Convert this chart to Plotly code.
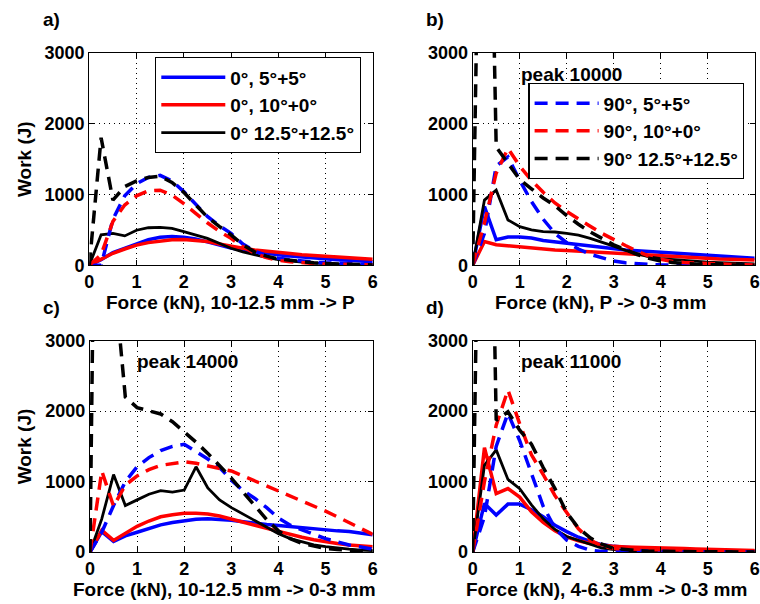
import plotly.graph_objects as go

# ---------------- data ----------------
force = [0, 0.25, 0.5, 0.75, 1.0, 1.25, 1.5, 1.75, 2.0, 2.25, 2.5, 2.75, 3.0,
         3.25, 3.5, 3.75, 4.0, 4.25, 4.5, 4.75, 5.0, 5.25, 5.5, 5.75, 6.0]

legend_solid = ["0°, 5°+5°", "0°, 10°+0°", "0° 12.5°+12.5°"]
legend_dashed = ["90°, 5°+5°", "90°, 10°+0°", "90° 12.5°+12.5°"]

# panel a) 10-12.5 mm -> P
a_blue_0 = [0, 80, 180, 240, 300, 360, 395, 405, 395, 370, 330, 285, 245, 215, 190, 170, 150, 130, 115, 100, 90, 80, 70, 60, 50]
a_red_0 = [0, 90, 170, 230, 285, 320, 345, 360, 365, 355, 335, 300, 265, 240, 215, 195, 180, 165, 150, 140, 130, 120, 105, 95, 85]
a_black_0 = [0, 430, 450, 415, 495, 530, 535, 520, 475, 430, 380, 310, 240, 190, 145, 110, 80, 60, 45, 32, 22, 15, 10, 6, 4]
a_blue_90 = [0, 0, 650, 980, 1150, 1240, 1270, 1190, 1040, 860, 690, 560, 450, 300, 200, 140, 100, 80, 60, 45, 35, 27, 20, 14, 10]
a_red_90 = [0, 150, 620, 850, 980, 1050, 1060, 990, 870, 730, 600, 480, 380, 260, 170, 110, 70, 50, 35, 25, 18, 12, 8, 6, 5]
a_black_90 = [0, 1800, 920, 1110, 1190, 1240, 1255, 1170, 1030, 850, 680, 550, 430, 290, 190, 130, 90, 70, 50, 35, 25, 18, 12, 8, 5]

# panel b) P -> 0-3 mm
b_blue_0 = [0, 830, 360, 400, 400, 385, 350, 330, 310, 290, 265, 245, 230, 215, 205, 195, 188, 178, 168, 155, 142, 130, 120, 110, 100]
b_red_0 = [0, 335, 290, 275, 265, 245, 225, 215, 210, 200, 190, 180, 170, 160, 150, 140, 130, 120, 110, 100, 95, 90, 85, 80, 75]
b_black_0 = [0, 920, 1060, 640, 545, 500, 475, 470, 450, 425, 380, 330, 270, 210, 160, 120, 95, 80, 65, 55, 45, 38, 30, 25, 20]
b_blue_90 = [0, 450, 1400, 1530, 1200, 900, 650, 450, 320, 230, 155, 105, 60, 35, 20, 12, 6, 3, 2, 1, 0, 0, 0, 0, 0]
b_red_90 = [0, 600, 1300, 1650, 1400, 1200, 1030, 880, 760, 650, 550, 450, 360, 280, 200, 130, 85, 55, 40, 30, 22, 17, 12, 8, 5]
b_black_90 = [0, 10000, 1670, 1430, 1210, 1080, 950, 840, 700, 580, 470, 380, 290, 220, 150, 100, 60, 40, 25, 15, 10, 6, 4, 2, 1]

# panel c) 10-12.5 mm -> 0-3 mm
c_blue_0 = [0, 290, 150, 230, 280, 330, 385, 420, 445, 465, 472, 465, 450, 430, 405, 390, 378, 360, 342, 325, 312, 300, 290, 270, 245]
c_red_0 = [0, 310, 165, 270, 365, 440, 500, 530, 550, 550, 540, 510, 470, 425, 380, 335, 290, 250, 210, 175, 145, 120, 100, 85, 75]
c_black_0 = [0, 470, 1100, 660, 740, 820, 870, 850, 880, 1210, 910, 740, 630, 540, 450, 350, 260, 190, 140, 100, 75, 55, 40, 28, 20]
c_blue_90 = [0, 280, 660, 1000, 1210, 1340, 1440, 1500, 1530, 1430, 1320, 1200, 1020, 870, 760, 630, 480, 380, 310, 250, 190, 140, 100, 70, 40]
c_red_90 = [0, 1150, 650, 950, 1080, 1170, 1230, 1260, 1280, 1260, 1220, 1180, 1150, 1080, 1010, 940, 870, 800, 720, 650, 580, 500, 420, 330, 250]
c_black_90 = [0, 14000, 4000, 2200, 2050, 2000, 1960, 1850, 1710, 1560, 1400, 1230, 1050, 850, 650, 460, 300, 190, 120, 80, 50, 35, 22, 15, 10]

# panel d) 4-6.3 mm -> 0-3 mm
d_blue_0 = [0, 690, 525, 680, 680, 600, 500, 380, 290, 210, 150, 105, 80, 65, 55, 48, 42, 38, 33, 30, 26, 22, 19, 16, 14]
d_red_0 = [0, 1480, 830, 900, 780, 570, 420, 300, 215, 160, 120, 95, 80, 72, 65, 60, 56, 52, 48, 44, 40, 35, 30, 25, 20]
d_black_0 = [0, 1230, 1450, 1030, 900, 670, 470, 320, 220, 160, 110, 55, 30, 15, 8, 5, 4, 3, 2, 2, 1, 1, 1, 1, 1]
d_blue_90 = [0, 500, 1500, 1970, 1580, 1100, 650, 340, 170, 80, 25, 8, 3, 0, 0, 0, 0, 0, 0, 0, 0, 0, 0, 0, 0]
d_red_90 = [0, 1000, 1800, 2300, 1820, 1380, 1100, 800, 560, 330, 170, 85, 50, 42, 38, 35, 32, 30, 28, 26, 24, 22, 20, 18, 15]
d_black_90 = [0, 11000, 1870, 1990, 1730, 1530, 1200, 900, 560, 340, 200, 110, 50, 30, 20, 12, 8, 6, 5, 4, 3, 2, 2, 1, 1]

x_titles = ["Force (kN), 10-12.5 mm -> P", "Force (kN), P -> 0-3 mm",
            "Force (kN), 10-12.5 mm -> 0-3 mm", "Force (kN), 4-6.3 mm -> 0-3 mm"]
panel_labels = ["a)", "b)", "c)", "d)"]
peak_labels = [None, "peak 10000", "peak 14000", "peak 11000"]
y_ticks = [0, 1000, 2000, 3000]

# ---------------- layout geometry ----------------
W, H = 760, 604
FONT = "Liberation Sans, Arial, sans-serif"
colors = ["#0000FF", "#FF0000", "#000000"]

panels = [
    dict(data0=[a_blue_0, a_red_0, a_black_0], data90=[a_blue_90, a_red_90, a_black_90],
         px=(89.3, 372.7), py=(52.7, 265.3), title_cx=230),
    dict(data0=[b_blue_0, b_red_0, b_black_0], data90=[b_blue_90, b_red_90, b_black_90],
         px=(472.7, 754.7), py=(52.7, 265.3), title_cx=600),
    dict(data0=[c_blue_0, c_red_0, c_black_0], data90=[c_blue_90, c_red_90, c_black_90],
         px=(90.0, 372.7), py=(340.7, 552.0), title_cx=225),
    dict(data0=[d_blue_0, d_red_0, d_black_0], data90=[d_blue_90, d_red_90, d_black_90],
         px=(472.7, 754.7), py=(340.7, 552.0), title_cx=606),
]

def fx(p):
    return p / W

def fy(p):
    return 1 - p / H

fig = go.Figure()
annotations = []

for i, pnl in enumerate(panels):
    sfx = "" if i == 0 else str(i + 1)
    xa, ya = "x" + sfx, "y" + sfx
    for k in range(3):
        fig.add_trace(go.Scatter(
            x=force, y=pnl["data0"][k], mode="lines", xaxis=xa, yaxis=ya,
            line=dict(color=colors[k], width=3.5 if k < 2 else 2.8),
            name=legend_solid[k], showlegend=(i == 0), legend="legend",
            hoverinfo="skip"))
    for k in range(3):
        fig.add_trace(go.Scatter(
            x=force, y=pnl["data90"][k], mode="lines", xaxis=xa, yaxis=ya,
            line=dict(color=colors[k], width=3.5, dash="13px,8px"),
            name=legend_dashed[k], showlegend=(i == 1), legend="legend2",
            hoverinfo="skip"))

    axis_common = dict(showline=True, linecolor="black", linewidth=1.3, mirror="ticks",
                       ticks="inside", ticklen=5, tickcolor="black", tickwidth=1,
                       showgrid=True, gridcolor="black", gridwidth=1, griddash="1px,4px",
                       zeroline=False, automargin=False,
                       tickfont=dict(family=FONT, size=18, color="black", weight="bold"))
    fig.layout["xaxis" + sfx] = dict(
        domain=[fx(pnl["px"][0]), fx(pnl["px"][1])], range=[0, 6], dtick=1, tick0=0,
        anchor=ya, **axis_common)
    fig.layout["yaxis" + sfx] = dict(
        domain=[fy(pnl["py"][1]), fy(pnl["py"][0])], range=[0, 3000], tickvals=y_ticks,
        anchor=xa, **axis_common)

    annotations.append(dict(text=x_titles[i], x=fx(pnl["title_cx"]), y=fy(pnl["py"][1] + 37),
                            xref="paper", yref="paper", showarrow=False,
                            xanchor="center", yanchor="middle"))
    annotations.append(dict(text=panel_labels[i], x=fx(41 if i % 2 == 0 else 424),
                            y=fy(pnl["py"][0] - 33), xref="paper", yref="paper",
                            showarrow=False, xanchor="left", yanchor="middle"))
    if i % 2 == 0:
        annotations.append(dict(text="Work (J)", textangle=-90, x=fx(24),
                                y=fy((pnl["py"][0] + pnl["py"][1]) / 2),
                                xref="paper", yref="paper", showarrow=False,
                                xanchor="center", yanchor="middle"))
    if peak_labels[i]:
        annotations.append(dict(text=peak_labels[i], x=fx(pnl["px"][0] + (45 if i == 2 else 46)),
                                y=fy(pnl["py"][0] + (22 if i == 1 else 21)),
                                xref="paper", yref="paper", showarrow=False,
                                xanchor="left", yanchor="middle"))

legend_style = dict(bgcolor="white", bordercolor="black", borderwidth=1.3,
                    font=dict(family=FONT, size=19, color="black", weight="bold"),
                    xanchor="left", yanchor="top", tracegroupgap=0, itemwidth=64,
                    traceorder="normal")

fig.update_layout(
    width=W, height=H,
    margin=dict(l=0, r=0, t=0, b=0),
    paper_bgcolor="white", plot_bgcolor="white",
    font=dict(family=FONT, size=19, color="black", weight="bold"),
    annotations=annotations,
    legend=dict(x=fx(155), y=fy(57), **legend_style),
    legend2=dict(x=fx(528.3), y=fy(83), **legend_style),
)

fig.write_html("out.html", config={"displayModeBar": False},
               post_script="document.body.style.margin='0';")
